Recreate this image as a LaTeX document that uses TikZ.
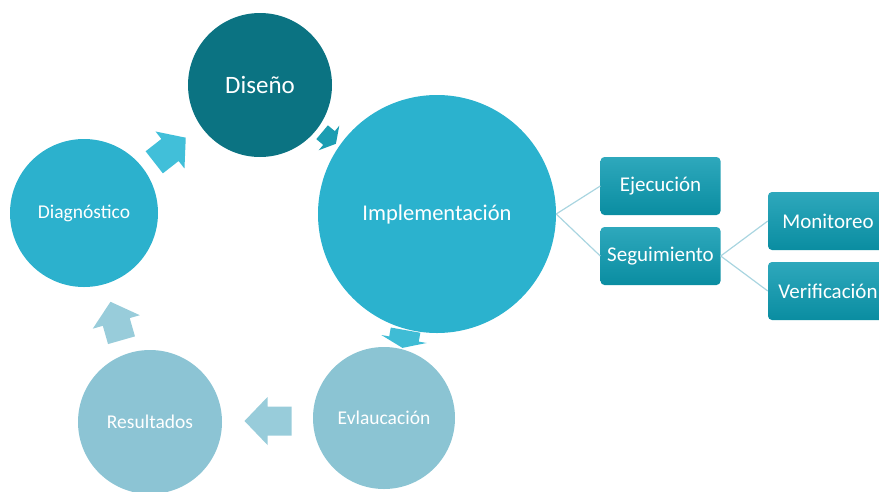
\documentclass[tikz,border=0pt]{standalone}
\usepackage{fontspec}
\setmainfont{Carlito}
\definecolor{cdis}{HTML}{0B7382}
\definecolor{cimp}{HTML}{2BB2CE}
\definecolor{cdia}{HTML}{2CB1CD}
\definecolor{ceva}{HTML}{8BC4D3}
\definecolor{cres}{HTML}{8CC4D4}
\definecolor{ca1}{HTML}{41BFD9}
\definecolor{ca2}{HTML}{1B9DB2}
\definecolor{ca3}{HTML}{3FBCD5}
\definecolor{ca4}{HTML}{98CCDA}
\definecolor{boxtop}{HTML}{2EA8BC}
\definecolor{boxbot}{HTML}{0A8DA1}
\definecolor{conncol}{HTML}{A9D5E0}
\newcommand\myarrow[7]{\fill[#1,shift={(#2)},rotate=#3] ({-#4/2},{-#7/2}) -- ({#4/2-#5},{-#7/2}) -- ({#4/2-#5},{-#6/2}) -- ({#4/2},0) -- ({#4/2-#5},{#6/2}) -- ({#4/2-#5},{#7/2}) -- ({-#4/2},{#7/2}) -- cycle;}
\begin{document}
\begin{tikzpicture}[x=1pt,y=-1pt,
  stage/.style={circle,inner sep=0pt,text=white},
  subbox/.style={rounded corners=4pt,top color=boxtop,bottom color=boxbot,minimum width=120pt,minimum height=58pt,inner sep=0pt,text=white,font=\fontsize{21}{25}\selectfont},
  conn/.style={draw=conncol,line width=1.2pt}]
\useasboundingbox (0,0) rectangle (879,491);
% arrows behind circles
\myarrow{ca1}{170,150}{38}{40}{20}{47}{28}
\myarrow{ca2}{329,138}{-40}{18}{9}{32}{18}
\myarrow{ca3}{404,339}{-100}{18}{9}{46}{30}
\myarrow{ca4}{268,421}{180}{47}{23}{48}{29}
\myarrow{ca4}{116,321}{106}{40}{21}{49}{28}
% circles
\node[stage,fill=cdis,minimum size=144pt,font=\fontsize{25}{30}\selectfont] (dis) at (260,85) {Diseño};
\node[stage,fill=cimp,minimum size=238pt,font=\fontsize{22.5}{27}\selectfont] (imp) at (437,214) {Implementación};
\node[stage,fill=cdia,minimum size=148pt,font=\fontsize{19.5}{23}\selectfont] (dia) at (84,213) {Diagnóstico};
\node[stage,fill=ceva,minimum size=142pt,font=\fontsize{19.5}{23}\selectfont] (eva) at (384,418) {Evlaucación};
\node[stage,fill=cres,minimum size=144pt,font=\fontsize{19.5}{23}\selectfont] (res) at (150,422) {Resultados};
% boxes
\node[subbox] (eje) at (660.5,186) {Ejecución};
\node[subbox] (seg) at (660.5,256) {Seguimiento};
\node[subbox] (mon) at (828,221) {Monitoreo};
\node[subbox] (ver) at (828,291) {Verificación};
% connectors
\draw[conn] (imp.east) -- (eje.west);
\draw[conn] (imp.east) -- (seg.west);
\draw[conn] (seg.east) -- (mon.west);
\draw[conn] (seg.east) -- (ver.west);
\end{tikzpicture}
\end{document}
